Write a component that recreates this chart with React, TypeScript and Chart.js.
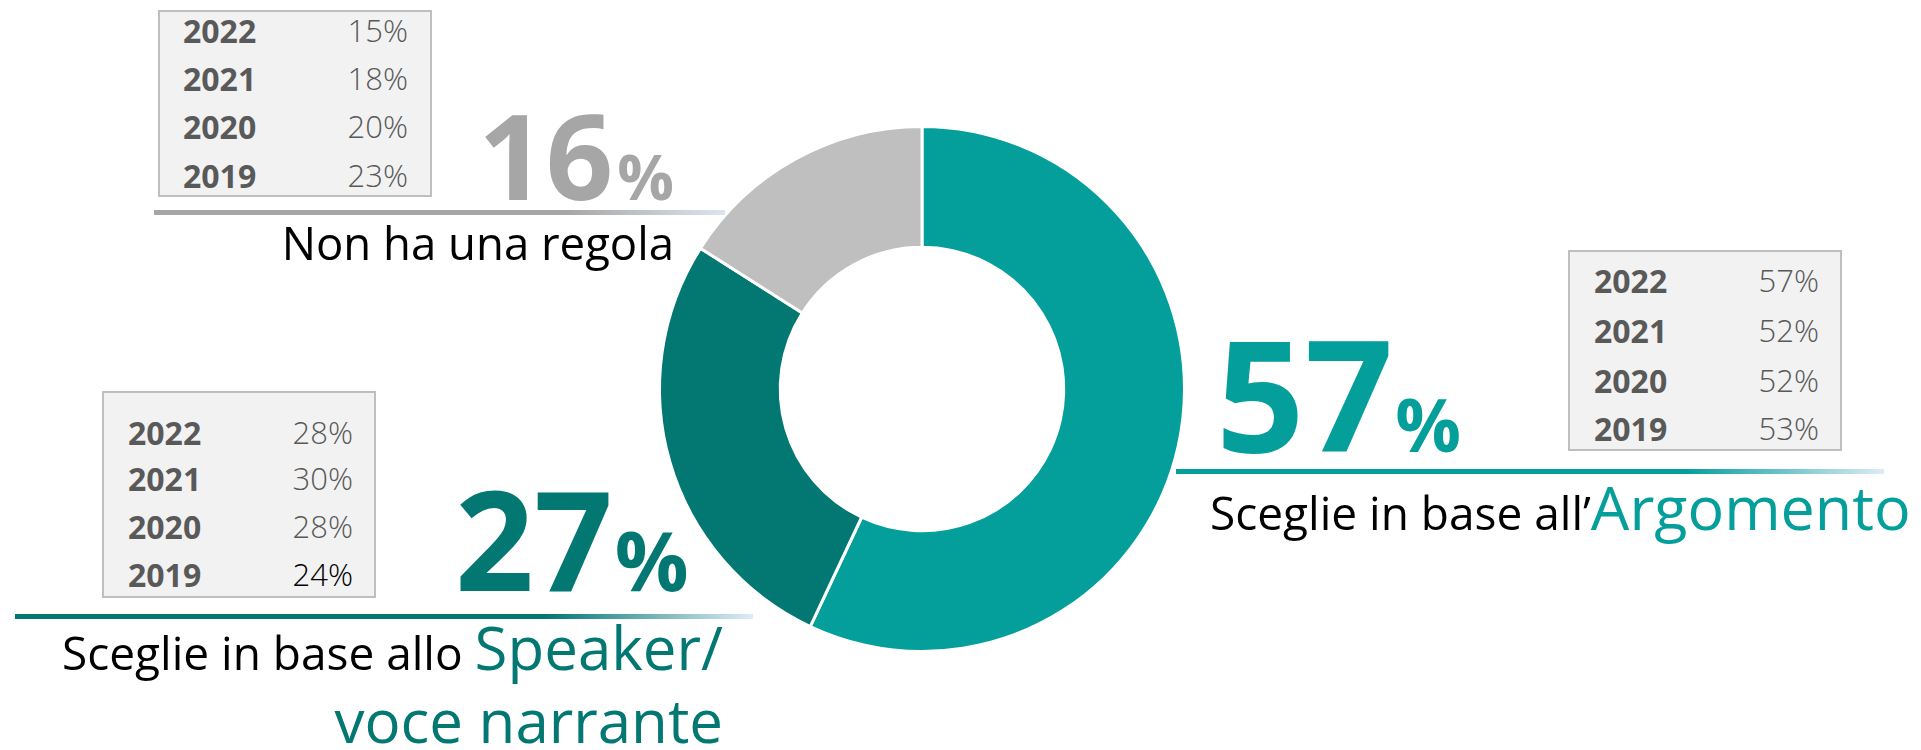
import React, { useEffect, useRef } from "react";
import { Chart, registerables } from "chart.js";

Chart.register(...registerables);

// ---- data ----
const categories = ["Sceglie in base all’Argomento", "Sceglie in base allo Speaker/voce narrante", "Non ha una regola"];
const shares = [57, 27, 16];
const years = ["2022", "2021", "2020", "2019"];
const argomentoByYear = ["57%", "52%", "52%", "53%"];
const speakerByYear = ["28%", "30%", "28%", "24%"];
const nessunaByYear = ["15%", "18%", "20%", "23%"];

// ---- styles ----
const TEAL = "#049E9B";
const DARK_TEAL = "#037873";
const GREY = "#BFBFBF";
const BIG_GREY = "#A6A6A6";
const FONT = "'Open Sans', 'Noto Sans', sans-serif";
const BASE = 0.888; // baseline offset for line-height 1

type Run = { text: string; size: number; weight?: number; color?: string; ml?: number };

function TextLine(props: { baseline: number; left?: number; right?: number; runs: Run[] }) {
  const maxSize = Math.max(...props.runs.map((r) => r.size));
  const style: React.CSSProperties = {
    position: "absolute",
    top: props.baseline - BASE * maxSize,
    display: "flex",
    alignItems: "baseline",
    whiteSpace: "pre",
    fontFamily: FONT,
  };
  if (props.left !== undefined) style.left = props.left;
  if (props.right !== undefined) style.right = 1921 - props.right;
  return (
    <div style={style}>
      {props.runs.map((r, i) => (
        <span
          key={i}
          style={{
            fontSize: r.size,
            lineHeight: 1,
            fontWeight: r.weight ?? 400,
            color: r.color ?? "#000",
            marginLeft: r.ml ?? 0,
          }}
        >
          {r.text}
        </span>
      ))}
    </div>
  );
}

function YearTable(props: {
  left: number;
  top: number;
  width: number;
  height: number;
  rowBaselines: number[];
  yearLeft: number;
  valueRight: number;
  values: string[];
  valueColors?: string[];
}) {
  return (
    <>
      <div
        style={{
          position: "absolute",
          left: props.left,
          top: props.top,
          width: props.width,
          height: props.height,
          background: "#F2F2F2",
          border: "2px solid #BFBFBF",
          boxSizing: "border-box",
        }}
      />
      {years.map((y, i) => (
        <React.Fragment key={y}>
          <TextLine
            baseline={props.rowBaselines[i]}
            left={props.yearLeft}
            runs={[{ text: y, size: 32, weight: 700, color: "#595959" }]}
          />
          <TextLine
            baseline={props.rowBaselines[i]}
            right={props.valueRight}
            runs={[
              {
                text: props.values[i],
                size: 31,
                weight: 300,
                color: props.valueColors ? props.valueColors[i] : "#595959",
              },
            ]}
          />
        </React.Fragment>
      ))}
    </>
  );
}

function GradLine(props: { left: number; top: number; width: number; color: string; end: string }) {
  return (
    <div
      style={{
        position: "absolute",
        left: props.left,
        top: props.top,
        width: props.width,
        height: 5,
        background: `linear-gradient(to right, ${props.color} 0%, ${props.color} 72%, ${props.end} 100%)`,
      }}
    />
  );
}

export default function App() {
  const canvasRef = useRef<HTMLCanvasElement | null>(null);

  useEffect(() => {
    if (!canvasRef.current) return;
    const chart = new Chart(canvasRef.current, {
      type: "doughnut",
      data: {
        labels: categories,
        datasets: [
          {
            data: shares,
            backgroundColor: [TEAL, DARK_TEAL, GREY],
            borderColor: "#FFFFFF",
            borderWidth: 3,
          },
        ],
      },
      options: {
        responsive: false,
        animation: false,
        cutout: "54%",
        layout: { padding: 6 },
        plugins: {
          legend: { display: false },
          tooltip: { enabled: false },
        },
      },
    });
    return () => chart.destroy();
  }, []);

  return (
    <div
      style={{
        position: "absolute",
        left: 0,
        top: 0,
        width: 1921,
        height: 750,
        background: "#FFFFFF",
        overflow: "hidden",
        fontFamily: FONT,
      }}
    >
      <canvas
        ref={canvasRef}
        width={540}
        height={540}
        style={{ position: "absolute", left: 652, top: 119, width: 540, height: 540 }}
      />

      {/* Non ha una regola */}
      <YearTable
        left={158}
        top={10}
        width={274}
        height={187}
        rowBaselines={[43, 91, 139, 188]}
        yearLeft={183}
        valueRight={408}
        values={nessunaByYear}
      />
      <TextLine
        baseline={201}
        right={674}
        runs={[
          { text: "16", size: 118, weight: 700, color: BIG_GREY },
          { text: "%", size: 63, weight: 700, color: BIG_GREY, ml: 4 },
        ]}
      />
      <GradLine left={154} top={210} width={571} color={BIG_GREY} end="#DCE4EE" />
      <TextLine baseline={260} right={674} runs={[{ text: "Non ha una regola", size: 45.5 }]} />

      {/* Argomento */}
      <YearTable
        left={1568}
        top={250}
        width={274}
        height={201}
        rowBaselines={[293, 343, 393, 441]}
        yearLeft={1594}
        valueRight={1819}
        values={argomentoByYear}
      />
      <TextLine
        baseline={452}
        left={1216}
        runs={[
          { text: "57", size: 155, weight: 700, color: TEAL },
          { text: "%", size: 73, weight: 700, color: TEAL, ml: 2 },
        ]}
      />
      <GradLine left={1176} top={469} width={708} color={TEAL} end="#DEEBF7" />
      <TextLine
        baseline={530}
        left={1210}
        runs={[
          { text: "Sceglie in base all’", size: 46 },
          { text: "Argomento", size: 61, color: TEAL },
        ]}
      />

      {/* Speaker */}
      <YearTable
        left={102}
        top={391}
        width={274}
        height={207}
        rowBaselines={[445, 491, 539, 587]}
        yearLeft={128}
        valueRight={353}
        values={speakerByYear}
        valueColors={["#595959", "#595959", "#595959", "#000000"]}
      />
      <TextLine
        baseline={591}
        left={455}
        runs={[
          { text: "27", size: 138, weight: 700, color: DARK_TEAL },
          { text: "%", size: 82, weight: 700, color: DARK_TEAL, ml: 2 },
        ]}
      />
      <GradLine left={15} top={614} width={738} color={DARK_TEAL} end="#DEEBF7" />
      <TextLine
        baseline={670}
        right={723}
        runs={[
          { text: "Sceglie in base allo ", size: 46 },
          { text: "Speaker/", size: 60, color: DARK_TEAL },
        ]}
      />
      <TextLine baseline={743} right={723} runs={[{ text: "voce narrante", size: 60, color: DARK_TEAL }]} />
    </div>
  );
}
